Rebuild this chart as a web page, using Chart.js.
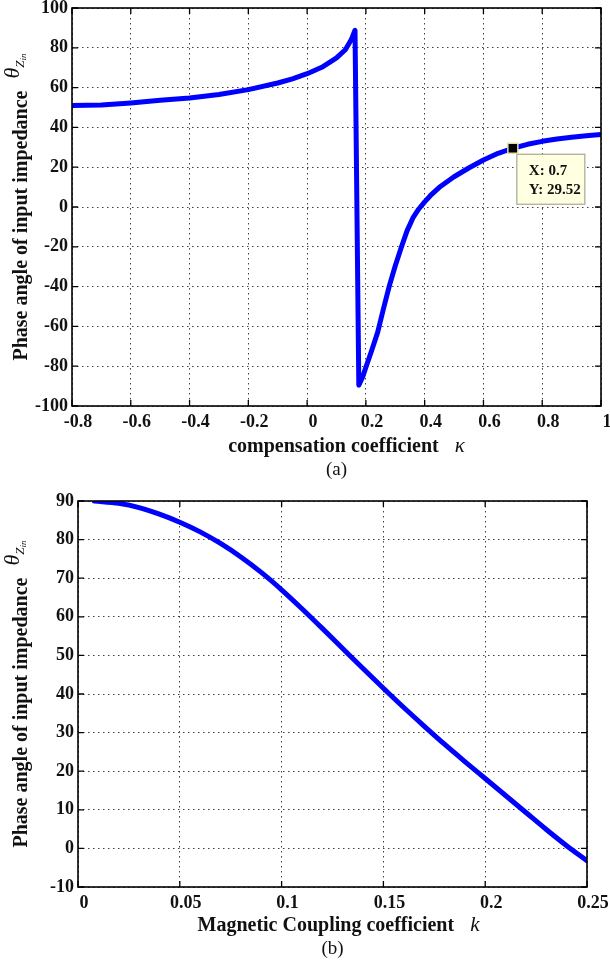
<!DOCTYPE html>
<html>
<head>
<meta charset="utf-8">
<script src="https://cdn.jsdelivr.net/npm/chart.js@4.4.1/dist/chart.umd.min.js"></script>
<style>
  html, body { margin: 0; padding: 0; background: #fff; }
  .panel { position: absolute; left: 0; width: 610px; }
</style>
</head>
<body>
<div class="panel" style="top:0;height:480px"><canvas id="chart-a" width="610" height="480"></canvas></div>
<div class="panel" style="top:480px;height:484px"><canvas id="chart-b" width="610" height="484"></canvas></div>
<script>
// (a) phase angle vs compensation coefficient kappa
const kappaA = [-0.8, -0.7, -0.6, -0.5, -0.4, -0.3, -0.2, -0.1, -0.05, 0, 0.05, 0.1, 0.13, 0.15, 0.163,
                0.176, 0.19, 0.2, 0.22, 0.24, 0.26, 0.28, 0.3, 0.32, 0.34, 0.36, 0.38, 0.4, 0.42, 0.45,
                0.5, 0.55, 0.6, 0.65, 0.7, 0.75, 0.8, 0.85, 0.9, 0.95, 1.0];
const phaseA = [51.0, 51.3, 52.3, 53.6, 54.8, 56.5, 59.0, 62.3, 64.4, 67.0, 70.2, 74.9, 79.0, 84.0, 88.8,
                -89.6, -85.0, -80.5, -72.0, -63.0, -51.0, -39.5, -29.5, -20.5, -12.0, -5.5, -1.0, 2.6, 5.8, 9.9,
                15.2, 19.6, 23.6, 27.0, 29.52, 31.5, 33.0, 34.2, 35.1, 35.8, 36.4];
const xTicksA = [-0.8, -0.6, -0.4, -0.2, 0, 0.2, 0.4, 0.6, 0.8, 1];
const yTicksA = [-100, -80, -60, -40, -20, 0, 20, 40, 60, 80, 100];
const tipA = [0.7, 29.52]; // data cursor

// (b) phase angle vs magnetic coupling coefficient k
const kB = [0.008, 0.02, 0.03, 0.04, 0.05, 0.06, 0.07, 0.08, 0.09, 0.1, 0.11, 0.12, 0.13,
            0.14, 0.15, 0.16, 0.17, 0.18, 0.19, 0.2, 0.21, 0.22, 0.23, 0.24, 0.25];
const phaseB = [90.0, 89.4, 88.3, 86.6, 84.5, 82.0, 79.0, 75.5, 71.5, 67.0, 62.1, 57.0, 51.8,
                46.6, 41.5, 36.5, 31.7, 27.0, 22.5, 18.1, 13.7, 9.3, 4.9, 0.7, -3.2];
const xTicksB = [0, 0.05, 0.1, 0.15, 0.2, 0.25];
const yTicksB = [-10, 0, 10, 20, 30, 40, 50, 60, 70, 80, 90];

const SERIF = '"Liberation Serif", "Times New Roman", serif';
const TXT = '#111';

// box around the axes with inward tick marks, like MATLAB "box on"
const matlabFrame = {
    id: 'matlabFrame',
    afterDatasetsDraw(chart) {
        const ctx = chart.ctx, a = chart.chartArea, sx = chart.scales.x, sy = chart.scales.y;
        ctx.save();
        ctx.strokeStyle = '#000';
        ctx.lineWidth = 1.6;
        ctx.strokeRect(a.left, a.top, a.right - a.left, a.bottom - a.top);
        ctx.lineWidth = 1.3;
        ctx.beginPath();
        sx.ticks.forEach(t => {
            const p = sx.getPixelForValue(t.value);
            ctx.moveTo(p, a.bottom); ctx.lineTo(p, a.bottom - 6);
            ctx.moveTo(p, a.top); ctx.lineTo(p, a.top + 6);
        });
        sy.ticks.forEach(t => {
            const p = sy.getPixelForValue(t.value);
            ctx.moveTo(a.left, p); ctx.lineTo(a.left + 6, p);
            ctx.moveTo(a.right, p); ctx.lineTo(a.right - 6, p);
        });
        ctx.stroke();
        ctx.restore();
    }
};

// axis titles with the theta_Zin symbol and the (a)/(b) caption
const titles = {
    id: 'titles',
    afterDraw(chart, args, o) {
        const ctx = chart.ctx, a = chart.chartArea;
        ctx.save();
        ctx.fillStyle = TXT;
        ctx.textBaseline = 'alphabetic';
        ctx.textAlign = 'left';
        // y title, rotated
        const fMain = 'bold 20px ' + SERIF, fTh = 'italic 22px ' + SERIF,
              fZ = 'italic 13px ' + SERIF, fIn = 'italic 9px ' + SERIF;
        ctx.font = fMain; const w1 = ctx.measureText(o.yTitle).width;
        ctx.font = fTh; const w2 = ctx.measureText('\u03B8').width;
        ctx.font = fZ; const w3 = ctx.measureText('Z').width;
        ctx.font = fIn; const w4 = ctx.measureText('in').width;
        const gap = 12, total = w1 + gap + w2 + w3 + w4;
        const cy = (a.top + a.bottom) / 2 + o.yShift;
        ctx.save();
        ctx.translate(27, cy + total / 2);
        ctx.rotate(-Math.PI / 2);
        ctx.font = fMain; ctx.fillText(o.yTitle, 0, 0);
        let u = w1 + gap;
        ctx.font = fTh; ctx.fillText('\u03B8', u, -8); u += w2;
        ctx.font = fZ; ctx.fillText('Z', u, -3); u += w3;
        ctx.font = fIn; ctx.fillText('in', u, -1);
        ctx.restore();
        // x title
        ctx.font = 'bold 20px ' + SERIF;
        const x1 = ctx.measureText(o.xTitle).width;
        ctx.font = 'italic 21px ' + SERIF;
        const x2 = ctx.measureText(o.xSym).width;
        const xgap = 16, xt = x1 + xgap + x2;
        const cx = (a.left + a.right) / 2 + o.xShift;
        ctx.font = 'bold 20px ' + SERIF;
        ctx.fillText(o.xTitle, cx - xt / 2, a.bottom + o.titleDy);
        ctx.font = 'italic 21px ' + SERIF;
        ctx.fillText(o.xSym, cx - xt / 2 + x1 + xgap, a.bottom + o.titleDy);
        // caption
        ctx.font = '19px ' + SERIF;
        ctx.textAlign = 'center';
        ctx.fillText(o.caption, (a.left + a.right) / 2, a.bottom + o.capDy);
        ctx.restore();
    }
};

// MATLAB style data tip
const dataTip = {
    id: 'dataTip',
    afterDraw(chart, args, o) {
        if (!o.point) return;
        const ctx = chart.ctx;
        const px = chart.scales.x.getPixelForValue(o.point[0]);
        const py = chart.scales.y.getPixelForValue(o.point[1]);
        ctx.save();
        ctx.fillStyle = '#ffffe1';
        ctx.strokeStyle = '#a8a890';
        ctx.lineWidth = 1.2;
        ctx.fillRect(px + 4, py + 6, 68, 50);
        ctx.strokeRect(px + 4, py + 6, 68, 50);
        ctx.fillStyle = '#000';
        ctx.strokeStyle = '#e8e0a0';
        ctx.lineWidth = 1.5;
        ctx.fillRect(px - 5, py - 5, 10, 10);
        ctx.strokeRect(px - 5, py - 5, 10, 10);
        ctx.fillStyle = TXT;
        ctx.font = 'bold 15px ' + SERIF;
        ctx.textAlign = 'left';
        ctx.fillText('X: ' + o.point[0], px + 16, py + 27);
        ctx.fillText('Y: ' + o.point[1], px + 16, py + 46);
        ctx.restore();
    }
};

function fmt(v) { return String(Number(v.toFixed(3))); }

function makeChart(id, xs, ys, xt, yt, frame, extra) {
    const ctx = document.getElementById(id);
    return new Chart(ctx, {
        type: 'line',
        data: {
            datasets: [{
                data: xs.map((x, i) => ({x: x, y: ys[i]})),
                borderColor: '#0000ff',
                borderWidth: 5,
                pointRadius: 0,
                tension: extra.smooth ? 0.4 : 0,
                cubicInterpolationMode: extra.smooth ? 'monotone' : 'default',
                borderCapStyle: 'round',
                borderJoinStyle: 'round'
            }]
        },
        options: {
            responsive: false,
            animation: false,
            layout: { padding: { top: frame.top, right: frame.right, left: 0, bottom: 0 } },
            plugins: {
                legend: { display: false },
                tooltip: { enabled: false },
                titles: extra.titles,
                dataTip: { point: extra.tip }
            },
            scales: {
                x: {
                    type: 'linear',
                    min: xt[0], max: xt[xt.length - 1],
                    afterBuildTicks: s => { s.ticks = xt.map(v => ({value: v})); },
                    afterFit: s => { s.height = frame.xh; s.paddingLeft = 0; s.paddingRight = 0; },
                    grid: { color: 'rgba(0,0,0,0.75)', lineWidth: 1, drawTicks: false },
                    border: { display: false, dash: [1.5, 3.5] },
                    ticks: {
                        padding: 6, labelOffset: 6, maxRotation: 0, color: TXT,
                        font: { family: SERIF, size: 18, weight: 'bold' },
                        callback: v => fmt(v)
                    }
                },
                y: {
                    min: yt[0], max: yt[yt.length - 1],
                    afterBuildTicks: s => { s.ticks = yt.map(v => ({value: v})); },
                    afterFit: s => { s.width = frame.yw; s.paddingTop = 0; s.paddingBottom = 0; },
                    grid: { color: 'rgba(0,0,0,0.75)', lineWidth: 1, drawTicks: false },
                    border: { display: false, dash: [1.5, 3.5] },
                    ticks: {
                        padding: 4, color: TXT,
                        font: { family: SERIF, size: 18, weight: 'bold' },
                        callback: v => fmt(v)
                    }
                }
            }
        },
        plugins: [matlabFrame, titles, dataTip]
    });
}

document.addEventListener('DOMContentLoaded', function() {
    makeChart('chart-a', kappaA, phaseA, xTicksA, yTicksA,
        { top: 8, right: 9, yw: 72, xh: 480 - 406 },
        { tip: tipA, smooth: false, titles: { yTitle: 'Phase angle of input impedance', yShift: 0,
            xTitle: 'compensation coefficient', xSym: '\u03BA', xShift: 10,
            titleDy: 46, capDy: 69, caption: '(a)' } });
    makeChart('chart-b', kB, phaseB, xTicksB, yTicksB,
        { top: 21, right: 23, yw: 78, xh: 484 - 407 },
        { tip: null, smooth: true, titles: { yTitle: 'Phase angle of input impedance', yShift: 0,
            xTitle: 'Magnetic Coupling coefficient', xSym: 'k', xShift: 6,
            titleDy: 44, capDy: 67, caption: '(b)' } });
});
</script>
</body>
</html>
